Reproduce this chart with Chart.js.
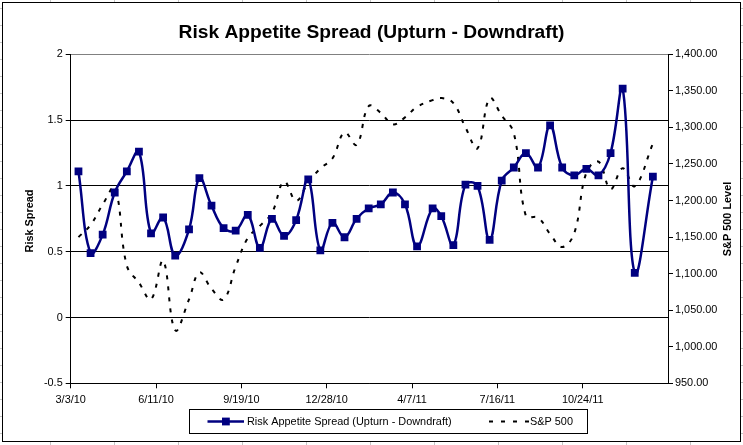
<!DOCTYPE html>
<html>
<head>
<meta charset="utf-8">
<script src="https://cdn.jsdelivr.net/npm/chart.js@4"></script>
<style>
  html, body { margin: 0; padding: 0; }
  body {
    width: 743px; height: 445px; overflow: hidden;
    background-color: #fff;
    background-image:
      linear-gradient(to right, #c6c6c6 1px, transparent 1px),
      linear-gradient(to bottom, #c6c6c6 1px, transparent 1px);
    background-size: 64px 17px;
    background-position: 50px 8px;
  }
  #wrap { position: relative; width: 743px; height: 445px; }
</style>
</head>
<body>
<div id="wrap"><canvas id="risk" width="743" height="445"></canvas></div>
<script>
// biweekly observation dates
var dates = [
  "2010-03-12", "2010-03-26", "2010-04-09", "2010-04-23", "2010-05-07", "2010-05-21",
  "2010-06-04", "2010-06-18", "2010-07-02", "2010-07-18", "2010-07-30", "2010-08-13",
  "2010-08-27", "2010-09-10", "2010-09-24", "2010-10-08", "2010-10-22", "2010-11-05",
  "2010-11-19", "2010-12-03", "2010-12-17", "2010-12-31", "2011-01-14", "2011-01-28",
  "2011-02-11", "2011-02-25", "2011-03-11", "2011-03-25", "2011-04-08", "2011-04-26",
  "2011-05-06", "2011-05-20", "2011-06-03", "2011-06-17", "2011-07-01", "2011-07-15",
  "2011-07-29", "2011-08-12", "2011-08-26", "2011-09-09", "2011-09-23", "2011-10-07",
  "2011-10-21", "2011-11-04", "2011-11-18", "2011-12-02", "2011-12-16", "2012-01-06"
];
var spread = [
  1.11, 0.49, 0.63, 0.95, 1.11, 1.26, 0.64, 0.76, 0.47, 0.67, 1.06, 0.85,
  0.68, 0.66, 0.78, 0.53, 0.75, 0.62, 0.74, 1.05, 0.51, 0.72, 0.61, 0.75,
  0.83, 0.86, 0.95, 0.86, 0.54, 0.83, 0.77, 0.55, 1.01, 1.00, 0.59, 1.04,
  1.14, 1.25, 1.14, 1.46, 1.14, 1.08, 1.13, 1.08, 1.25, 1.74, 0.34, 1.07
];
var sp500 = [
  1150.0, 1166.6, 1194.4, 1217.3, 1110.9, 1087.7, 1064.9, 1117.5, 1022.6, 1064.9, 1101.6, 1079.3,
  1064.6, 1109.6, 1148.7, 1165.2, 1183.1, 1225.9, 1199.7, 1224.7, 1243.9, 1257.6, 1293.2, 1276.3,
  1329.2, 1319.9, 1304.3, 1313.8, 1328.2, 1337.4, 1340.2, 1333.3, 1300.2, 1271.5, 1339.7, 1316.1,
  1292.3, 1178.8, 1176.8, 1154.2, 1136.4, 1155.5, 1238.3, 1253.2, 1215.7, 1244.3, 1219.7, 1277.8
];
var xTicks = ["3/3/10", "6/11/10", "9/19/10", "12/28/10", "4/7/11", "7/16/11", "10/24/11"];

var FONT = "'Liberation Sans', Arial, sans-serif";
var start = Date.UTC(2010, 2, 3);
function dayOf(s) {
  var p = s.split("-");
  return (Date.UTC(+p[0], +p[1] - 1, +p[2]) - start) / 86400000;
}
var spreadPts = dates.map(function (d, i) { return { x: dayOf(d), y: spread[i] }; });
var spPts = dates.map(function (d, i) { return { x: dayOf(d), y: sp500[i] }; });

var excelBits = {
  id: "excelBits",
  beforeDraw: function (chart) {
    var c = chart.ctx;
    c.save();
    c.fillStyle = "#fff";
    c.fillRect(2, 2, 739, 440);
    c.restore();
  },
  afterDraw: function (chart) {
    var c = chart.ctx, ds = chart.data.datasets;
    c.save();
    // chart frame
    c.strokeStyle = "#000";
    c.lineWidth = 1;
    c.strokeRect(2.5, 2.5, 738, 439);

    // axis titles
    c.fillStyle = "#000";
    c.font = "bold 10.9px " + FONT;
    c.textAlign = "center";
    c.textBaseline = "middle";
    c.save();
    c.translate(30, 221);
    c.rotate(-Math.PI / 2);
    c.fillText("Risk Spread", 0, 0);
    c.restore();
    c.save();
    c.translate(728, 219);
    c.rotate(-Math.PI / 2);
    c.fillText("S&P 500 Level", 0, 0);
    c.restore();

    // legend
    var ly = 421.5;
    c.strokeStyle = "#000";
    c.lineWidth = 1;
    c.strokeRect(189.5, 409.5, 398, 24);
    c.strokeStyle = ds[0].borderColor;
    c.lineWidth = ds[0].borderWidth;
    c.beginPath(); c.moveTo(207.5, ly); c.lineTo(244, ly); c.stroke();
    c.fillStyle = ds[0].backgroundColor;
    c.fillRect(222, ly - 3.9, 7.8, 7.8);
    c.strokeStyle = ds[1].borderColor;
    c.lineWidth = ds[1].borderWidth;
    c.setLineDash([4, 8]);
    c.beginPath(); c.moveTo(489, ly); c.lineTo(529, ly); c.stroke();
    c.setLineDash([]);
    c.fillStyle = "#000";
    c.font = "10.9px " + FONT;
    c.textAlign = "left";
    c.fillText(ds[0].label, 247, ly);
    c.fillText(ds[1].label, 530, ly);
    c.restore();
  }
};

var ctx = document.getElementById("risk");
var riskChart = new Chart(ctx, {
  type: "line",
  data: {
    datasets: [{
      label: "Risk Appetite Spread (Upturn - Downdraft)",
      data: spreadPts,
      yAxisID: "y",
      borderColor: "#000080",
      backgroundColor: "#000080",
      borderWidth: 2.5,
      pointStyle: "rect",
      pointRadius: 5.5,
      pointBorderWidth: 0,
      tension: 0.4,
      fill: false
    }, {
      label: "S&P 500",
      data: spPts,
      yAxisID: "y1",
      borderColor: "#000",
      backgroundColor: "#000",
      borderWidth: 2,
      borderDash: [4, 7],
      pointRadius: 0,
      tension: 0.4,
      fill: false
    }]
  },
  options: {
    responsive: false,
    animation: false,
    layout: { padding: 0 },
    plugins: {
      legend: { display: false },
      tooltip: { enabled: false },
      title: {
        display: true,
        text: "Risk Appetite Spread (Upturn - Downdraft)",
        color: "#000",
        font: { family: FONT, size: 19.2, weight: "bold" },
        padding: { top: 21.5, bottom: 9.8 }
      }
    },
    scales: {
      x: {
        type: "linear",
        position: "bottom",
        min: 0,
        max: 691.5,
        border: { color: "#000", width: 1 },
        grid: { drawOnChartArea: false, tickLength: 5, color: "#000" },
        ticks: {
          stepSize: 100,
          includeBounds: false,
          autoSkip: false,
          maxRotation: 0,
          padding: 5,
          color: "#000",
          font: { family: FONT, size: 10.9 },
          callback: function (v) { return xTicks[Math.round(v / 100)]; }
        },
        afterFit: function (s) { s.height = 61.7; }
      },
      y: {
        position: "left",
        min: -0.5,
        max: 2,
        border: { color: "#000", width: 1 },
        grid: {
          color: function (c) { return c.tick && c.tick.value === 2 ? "#808080" : "#000"; },
          tickColor: "#000",
          tickLength: 5
        },
        ticks: {
          stepSize: 0.5,
          padding: 3,
          color: "#000",
          font: { family: FONT, size: 10.9 },
          callback: function (v) { return String(v); }
        },
        afterFit: function (s) { s.width = 70.7; }
      },
      y1: {
        position: "right",
        min: 950,
        max: 1400,
        border: { color: "#000", width: 1 },
        grid: { drawOnChartArea: false, tickColor: "#000", tickLength: 5 },
        ticks: {
          stepSize: 50,
          padding: 2,
          color: "#000",
          font: { family: FONT, size: 10.9 },
          callback: function (v) {
            return v.toLocaleString("en-US", { minimumFractionDigits: 2, maximumFractionDigits: 2 });
          }
        },
        afterFit: function (s) { s.width = 75; }
      }
    }
  },
  plugins: [excelBits]
});
</script>
</body>
</html>
